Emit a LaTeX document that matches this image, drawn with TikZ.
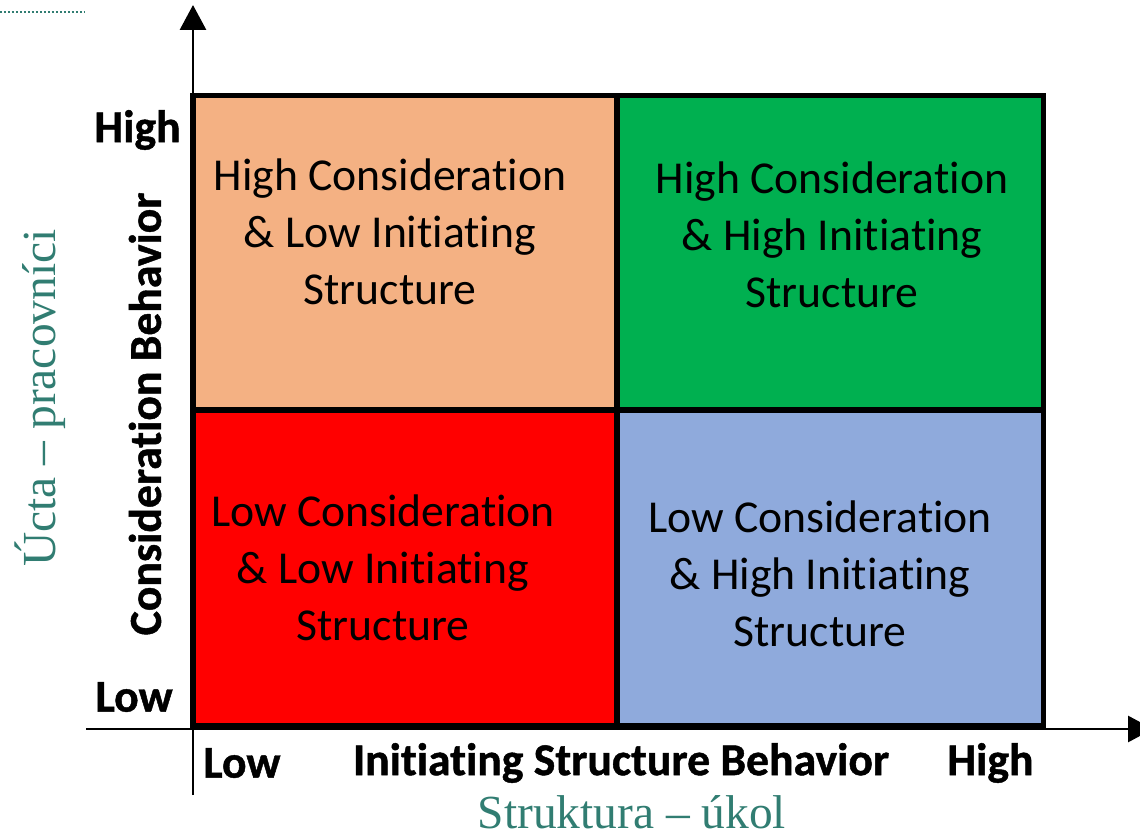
\documentclass[tikz,border=0pt]{standalone}
\usepackage{fontspec}
\usepackage{tikz}
\setmainfont{Carlito}[Ligatures={NoCommon,NoContextual,NoRare,NoRequired}]
\newfontfamily\czserif{Liberation Serif}
\usetikzlibrary{arrows.meta}
\usetikzlibrary{positioning}
\definecolor{peach}{RGB}{244,177,131}
\definecolor{leafgreen}{RGB}{0,176,80}
\definecolor{hotred}{RGB}{255,0,0}
\definecolor{paleblue}{RGB}{143,170,220}
\definecolor{czteal}{RGB}{49,125,114}
\tikzset{
  axisline/.style = {line width=1.7pt, -{Triangle[length=0.5cm,width=0.52cm]}},
  frame/.style = {line width=3.4pt, line cap=rect},
  celltext/.style = {align=center, font=\fontsize{26}{32.4}\selectfont},
  ticklabel/.style = {font=\fontsize{26}{31}\selectfont\bfseries\addfontfeature{FakeBold=1}},
  czlabel/.style = {text=czteal, font=\fontsize{27}{32}\selectfont\czserif},
}

\begin{document}
\begin{tikzpicture}[x=0.02cm,y=0.02cm]
    \useasboundingbox (0,0) rectangle (1140,836);

    % cells
    \fill[peach] (193,426) rectangle (617,740.5);
    \fill[leafgreen] (617,426) rectangle (1043.5,740.5);
    \fill[hotred] (193,110) rectangle (617,426);
    \fill[paleblue] (617,110) rectangle (1043.5,426);

    % axes
    \coordinate (yfoot) at (193,41);
    \coordinate (ytip) at (193,831);
    \coordinate (xfoot) at (86,107);
    \coordinate (xtip) at (1153,107);
    \draw[axisline] (yfoot) -- (ytip);
    \draw[axisline] (xfoot) -- (xtip);

    % grid
    \draw[frame] (193,110) rectangle (1043.5,740.5);
    \draw[frame] (617,110) -- (617,740.5);
    \draw[frame] (193,426) -- (1043.5,426);

    \node[celltext] (hclis) at (390,604) {High Consideration\\\& Low Initiating\\Structure};
    \node[celltext] (hchis) at (832,601) {High Consideration\\\& High Initiating\\Structure};
    \node[celltext] (lclis) at (383,268) {Low Consideration\\\& Low Initiating\\Structure};
    \node[celltext] (lchis) at (820,262) {Low Consideration\\\& High Initiating\\Structure};

    \node[ticklabel, anchor=east, inner sep=0pt] (yhigh) at (181,706) {High};
    \node[ticklabel, anchor=east, inner sep=0pt] (ylow) at (173,139) {Low};
    \node[ticklabel, anchor=west, inner sep=0pt] (xlow) at (203,73) {Low};
    \node[ticklabel, anchor=west, inner sep=0pt] (xhigh) at (947,73) {High};
    \node[ticklabel] (xtitle) at (621,73) {Initiating Structure Behavior};
    \node[ticklabel, rotate=90] (ytitle) at (145,422) {Consideration Behavior};

    \node[czlabel, rotate=90] (ucta) at (40,438) {Úcta – pracovníci};
    \node[czlabel] (struktura) at (632,24) {Struktura – úkol};

    \coordinate (dotl) at (0,824);
    \coordinate (dotr) at (85,824);
    \draw[czteal, line width=1pt, dash pattern=on 0.04cm off 0.04cm] (dotl) -- (dotr);
\end{tikzpicture}
\end{document}
